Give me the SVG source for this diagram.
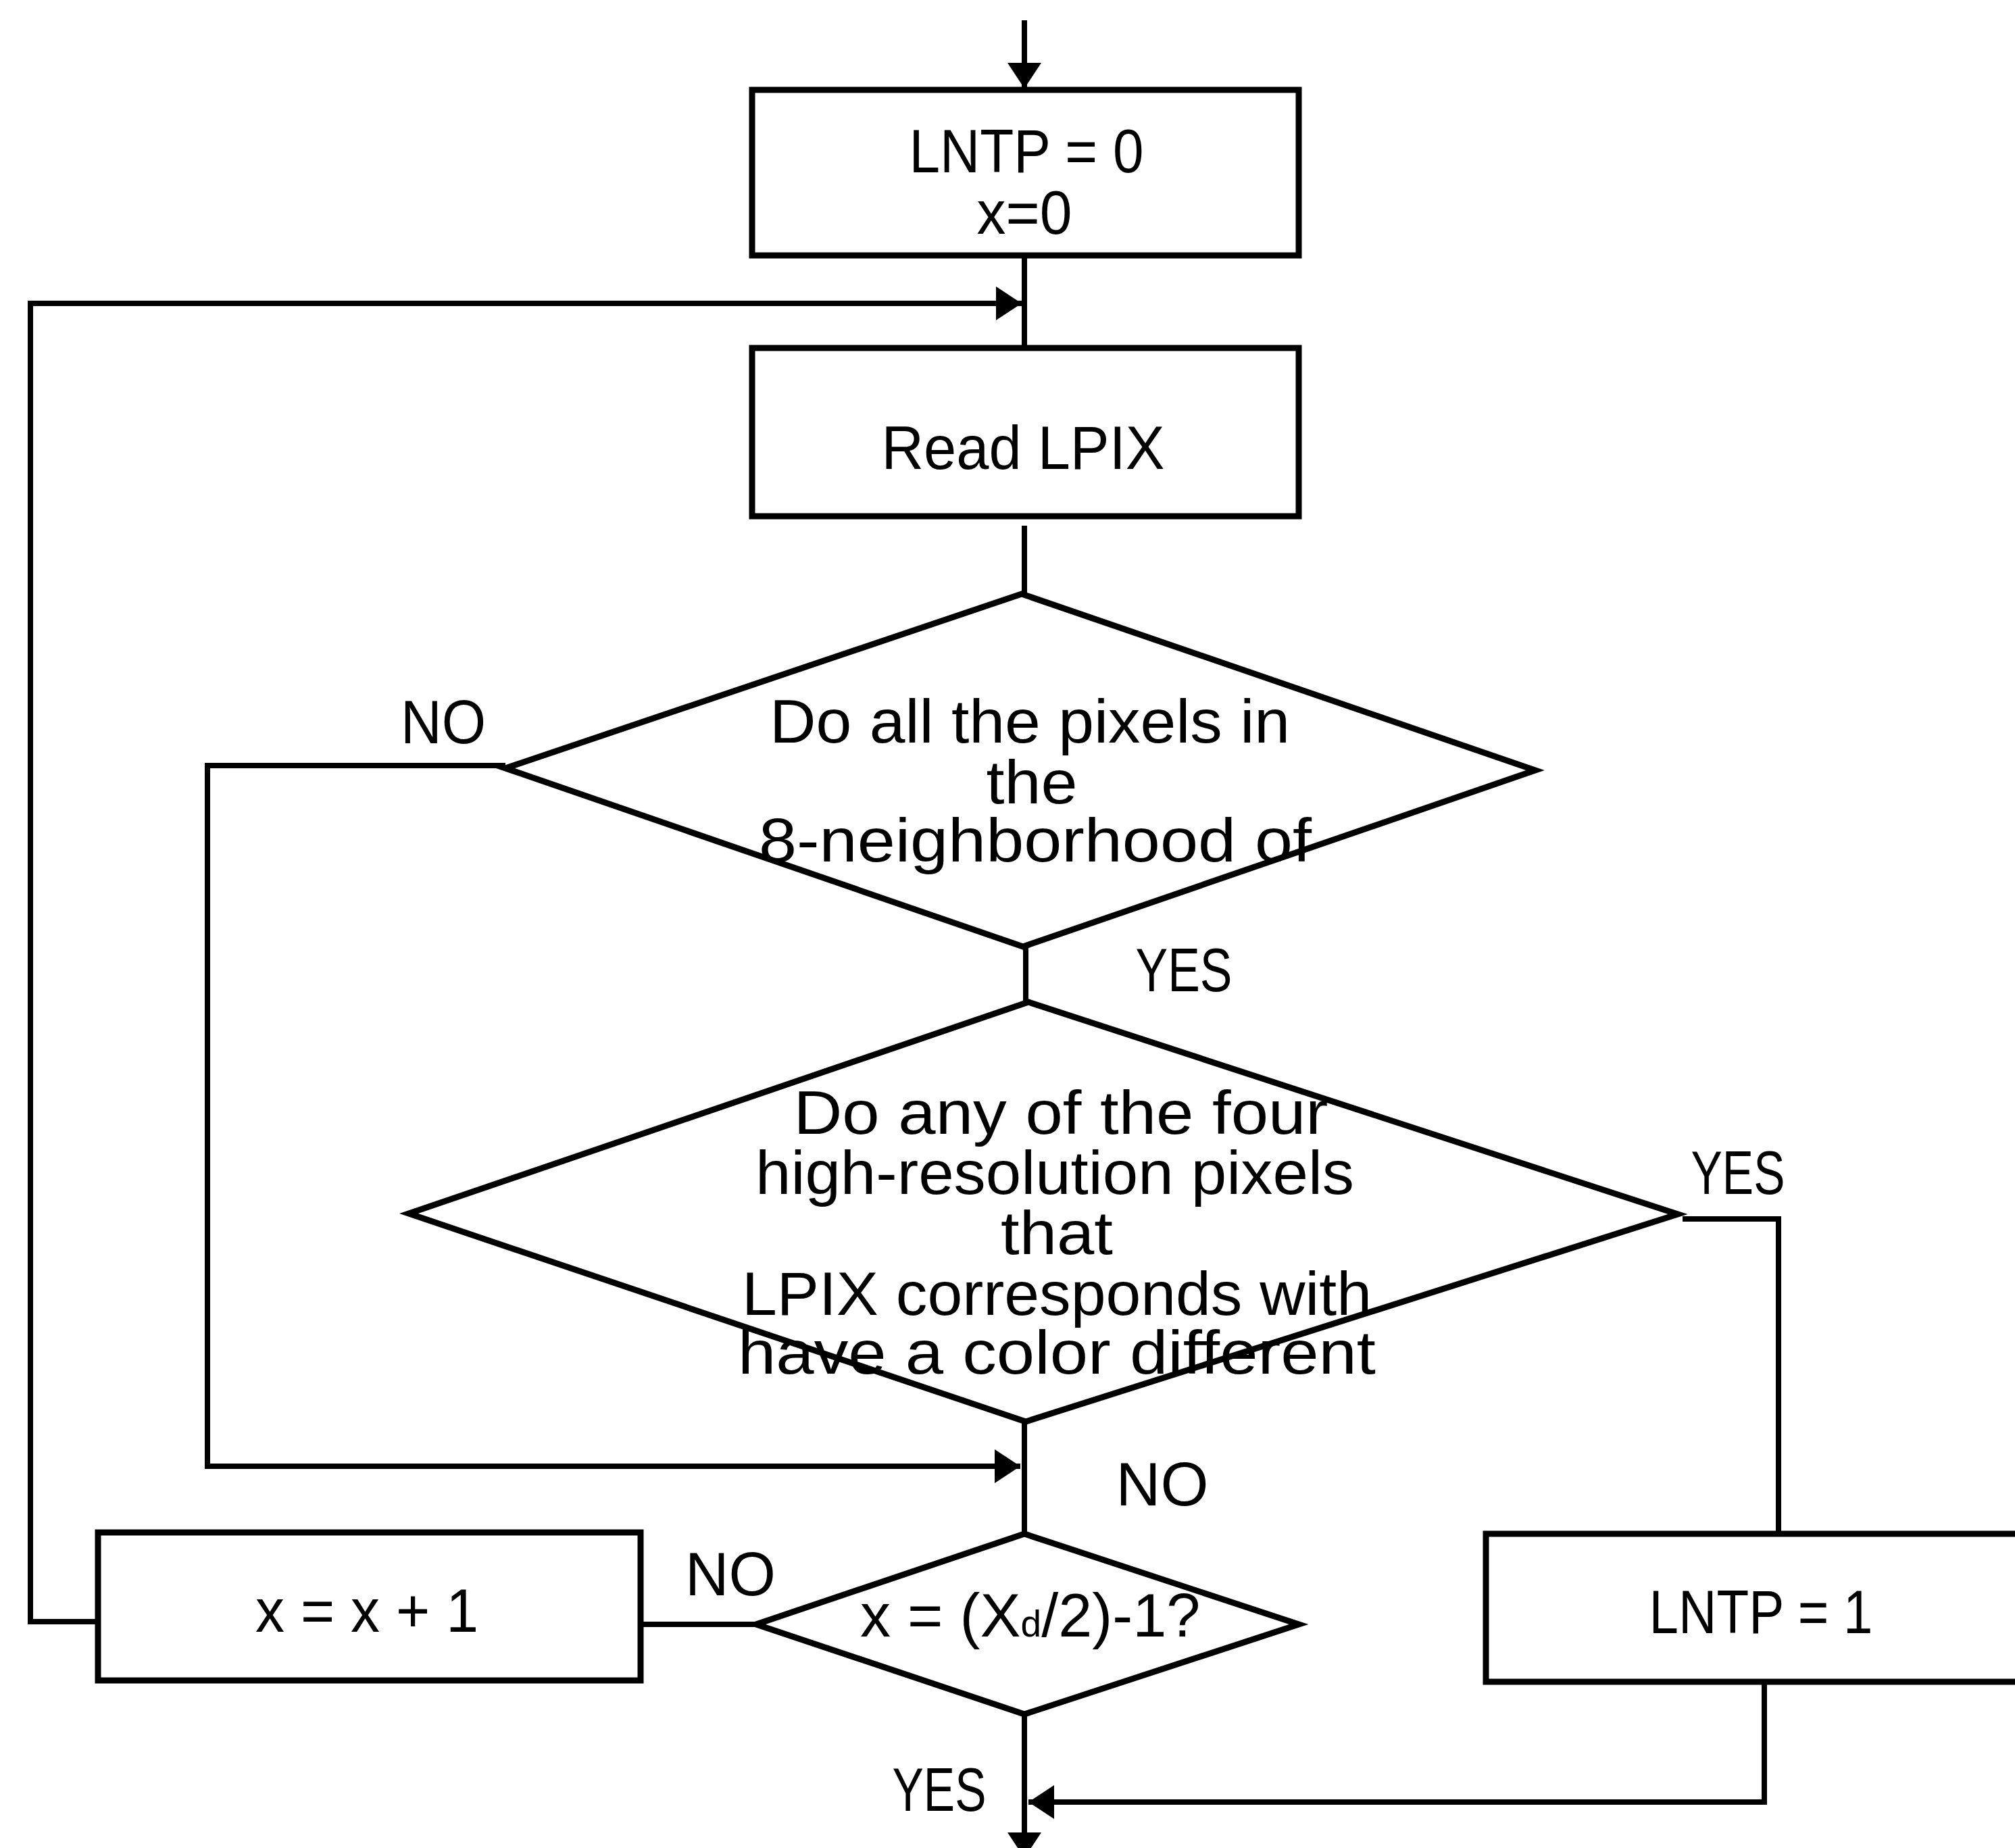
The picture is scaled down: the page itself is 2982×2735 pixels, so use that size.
<svg xmlns="http://www.w3.org/2000/svg" width="2982" height="2735" viewBox="0 0 2982 2735">
<style>
.shape{fill:#fff;stroke:#000;stroke-width:9;stroke-linejoin:miter}
.conn{fill:none;stroke:#000;stroke-width:8}
text{font-family:"Liberation Sans",Arial,sans-serif;font-size:90px;fill:#000;text-anchor:middle}
</style>
<defs>
<marker id="ah" markerUnits="userSpaceOnUse" markerWidth="40" markerHeight="50" refX="38" refY="25" orient="auto">
<path d="M0,0 L38,25 L0,50 z" fill="#000"/>
</marker>
</defs>
<rect width="2982" height="2735" fill="#fff"/>
<g id="connectors">
<path class="conn" d="M1516,30 L1516,131" marker-end="url(#ah)"/>
<path class="conn" d="M1516,378 L1516,515"/>
<path class="conn" d="M143,2400 L45,2400 L45,449 L1512,449" marker-end="url(#ah)"/>
<path class="conn" d="M1516,778 L1516,879"/>
<path class="conn" d="M1518,1401 L1518,1483"/>
<path class="conn" d="M748,1133 L307,1133 L307,2170 L1510,2170" marker-end="url(#ah)"/>
<path class="conn" d="M1516,2104 L1516,2270"/>
<path class="conn" d="M2490,1804 L2632,1804 L2632,2270"/>
<path class="conn" d="M1119,2404 L948,2404"/>
<path class="conn" d="M1516,2537 L1516,2750" marker-end="url(#ah)"/>
<path class="conn" d="M2611,2489 L2611,2667 L1522,2667" marker-end="url(#ah)"/>
</g>
<g id="labels">
<text x="656" y="1100" textLength="126" lengthAdjust="spacingAndGlyphs">NO</text>
<text x="1752" y="1467" textLength="143" lengthAdjust="spacingAndGlyphs">YES</text>
<text x="2572" y="1767" textLength="139" lengthAdjust="spacingAndGlyphs">YES</text>
<text x="1720" y="2228" textLength="137" lengthAdjust="spacingAndGlyphs">NO</text>
<text x="1081" y="2361" textLength="134" lengthAdjust="spacingAndGlyphs">NO</text>
<text x="1390" y="2680" textLength="139" lengthAdjust="spacingAndGlyphs">YES</text>
</g>
<g id="node-init">
<rect class="shape" x="1113" y="133" width="809" height="245"/>
<text x="1519" y="255" textLength="347" lengthAdjust="spacingAndGlyphs">LNTP = 0</text>
<text x="1516" y="346" textLength="141" lengthAdjust="spacingAndGlyphs">x=0</text>
</g>
<g id="node-read">
<rect class="shape" x="1113" y="515" width="809" height="249"/>
<text x="1514" y="694" textLength="419" lengthAdjust="spacingAndGlyphs">Read LPIX</text>
</g>
<g id="node-decision1">
<polygon class="shape" points="1512,879 2272,1140 1514,1401 748,1137"/>
<text x="1524" y="1099" textLength="770" lengthAdjust="spacingAndGlyphs">Do all the pixels in</text>
<text x="1527" y="1189" textLength="135" lengthAdjust="spacingAndGlyphs">the</text>
<text x="1532" y="1275" textLength="818" lengthAdjust="spacingAndGlyphs">8-neighborhood of</text>
</g>
<g id="node-decision2">
<polygon class="shape" points="1522,1483 2483,1797 1518,2104 605,1796"/>
<text x="1570" y="1678" textLength="791" lengthAdjust="spacingAndGlyphs">Do any of the four</text>
<text x="1561" y="1767" textLength="886" lengthAdjust="spacingAndGlyphs">high-resolution pixels</text>
<text x="1564" y="1856" textLength="166" lengthAdjust="spacingAndGlyphs">that</text>
<text x="1564" y="1946" textLength="932" lengthAdjust="spacingAndGlyphs">LPIX corresponds with</text>
<text x="1564" y="2033" textLength="944" lengthAdjust="spacingAndGlyphs">have a color different</text>
</g>
<g id="node-increment">
<rect class="shape" x="145" y="2268" width="803" height="219"/>
<text x="543" y="2415" textLength="330" lengthAdjust="spacingAndGlyphs">x = x + 1</text>
</g>
<g id="node-decision3">
<polygon class="shape" points="1516,2270 1922,2404 1516,2537 1119,2404"/>
<text x="1273" y="2422" style="text-anchor:start">x = (X<tspan font-size="55">d</tspan>/2)-1?</text>
</g>
<g id="node-set">
<rect class="shape" x="2199" y="2270" width="800" height="219"/>
<text x="2606" y="2417" textLength="331" lengthAdjust="spacingAndGlyphs">LNTP = 1</text>
</g>
</svg>
